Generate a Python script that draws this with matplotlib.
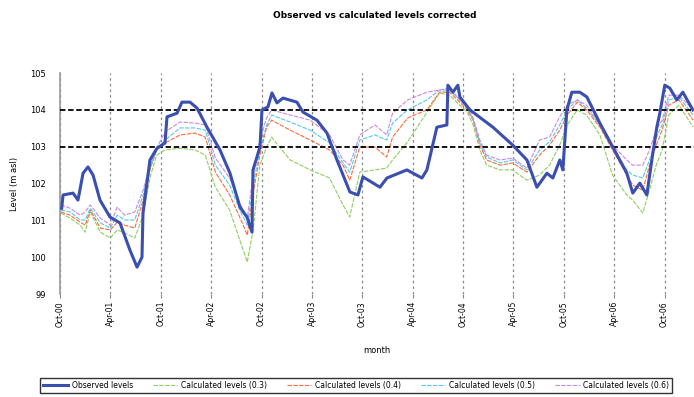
import matplotlib
matplotlib.use("Agg")
import matplotlib.pyplot as plt

# months since Oct 2000
obs_m = [0.2, 0.36, 1.55, 2.14, 2.74, 3.33, 3.93, 4.76, 5.95, 7.14, 8.33, 9.17, 9.76, 9.88,
         10.71, 11.55, 12.5, 12.74, 13.93, 14.52, 15.48, 16.31, 17.5, 19.05, 20.24, 21.43,
         22.26, 22.86, 22.98, 23.81, 24.05, 24.76, 25.24, 25.83, 26.55, 28.21, 28.93, 30.6,
         31.79, 32.98, 34.52, 35.48, 36.07, 38.1, 38.93, 41.31, 43.1, 43.69, 44.88, 46.07,
         46.19, 46.79, 47.38, 47.62, 48.81, 51.55, 53.93, 55.6, 56.79, 57.98, 58.69, 59.52,
         59.88, 60.36, 60.95, 61.9, 62.74, 64.29, 65.83, 67.5, 68.21, 69.05, 69.88, 70.48,
         71.07, 71.43, 72.02, 72.62, 73.45, 74.17, 75.36]
obs_v = [101.33, 101.69, 101.74, 101.55, 102.28, 102.45, 102.23, 101.55, 101.09, 100.93,
         100.19, 99.73, 100.0, 101.2, 102.64, 102.96, 103.1, 103.81, 103.91, 104.21, 104.21,
         104.05, 103.53, 102.91, 102.28, 101.36, 101.09, 100.68, 102.37, 102.99, 104.0,
         104.08, 104.46, 104.19, 104.32, 104.21, 103.94, 103.72, 103.37, 102.64, 101.77,
         101.69, 102.18, 101.9, 102.15, 102.37, 102.15, 102.37, 103.53, 103.59, 104.67,
         104.48, 104.67, 104.35, 104.0, 103.53, 103.04, 102.64, 101.9, 102.28, 102.15,
         102.64, 102.37, 104.0, 104.48, 104.48, 104.35, 103.64, 102.99, 102.28, 101.74,
         102.01, 101.69, 102.64, 103.53, 103.91, 104.67, 104.59, 104.27, 104.48, 104.0]

calc_m = [0.1, 1.2, 2.4, 3.0, 3.6, 4.8, 6.0, 6.8, 7.7, 8.9, 9.9, 10.7, 11.5, 12.5, 14.3, 16.1,
          17.3, 18.5, 20.2, 21.4, 22.3, 23.0, 23.8, 24.6, 25.2, 27.4, 29.8, 32.1, 33.7, 34.5,
          35.7, 37.5, 38.9, 39.6, 41.4, 43.7, 45.2, 46.4, 47.6, 48.5, 49.2, 50.0, 50.8, 52.4,
          53.9, 55.6, 57.1, 58.3, 59.5, 60.4, 61.6, 62.7, 64.3, 65.8, 67.5, 68.2, 69.4, 70.2,
          71.0, 71.7, 72.5, 73.7, 75.4]
calc_a = [101.20, 101.06, 100.87, 100.68, 101.23, 100.68, 100.52, 100.74, 100.66, 100.52,
          101.14, 102.15, 102.77, 102.91, 102.96, 102.91, 102.77, 101.90, 101.28, 100.47,
          99.87, 100.74, 102.50, 102.99, 103.26, 102.64, 102.37, 102.15, 101.42, 101.09,
          102.31, 102.37, 102.42, 102.64, 103.13, 103.94, 104.46, 104.40, 104.13, 103.94,
          103.59, 102.91, 102.50, 102.37, 102.37, 102.09, 102.23, 102.50, 103.04, 103.59,
          104.00, 103.86, 103.32, 102.23, 101.69, 101.55, 101.20, 101.82, 102.50, 102.91,
          103.86, 104.13, 103.53]
calc_b = [101.23, 101.14, 100.95, 100.87, 101.28, 100.79, 100.74, 100.95, 100.87, 100.79,
          101.55, 102.37, 102.91, 103.10, 103.32, 103.37, 103.26, 102.31, 101.69, 101.09,
          100.60, 101.74, 102.77, 103.53, 103.72, 103.45, 103.18, 102.91, 102.50, 102.09,
          102.99, 102.99, 102.72, 103.26, 103.78, 104.00, 104.48, 104.48, 104.21, 104.00,
          103.72, 103.04, 102.64, 102.50, 102.56, 102.31, 102.77, 103.04, 103.45, 103.86,
          104.21, 104.00, 103.53, 102.91, 102.23, 101.96, 101.82, 102.50, 103.04, 103.45,
          104.13, 104.27, 103.72]
calc_c = [101.28, 101.23, 101.01, 101.01, 101.33, 100.93, 100.79, 101.14, 101.01, 101.01,
          101.69, 102.42, 102.91, 103.18, 103.51, 103.51, 103.45, 102.50, 101.96, 101.28,
          100.87, 101.96, 102.91, 103.59, 103.86, 103.67, 103.45, 103.10, 102.56, 102.31,
          103.18, 103.32, 103.18, 103.64, 104.00, 104.27, 104.54, 104.54, 104.27, 104.05,
          103.72, 103.10, 102.72, 102.56, 102.64, 102.37, 102.91, 103.13, 103.59, 104.00,
          104.27, 104.05, 103.59, 102.96, 102.37, 102.23, 102.15, 102.64, 103.24, 103.59,
          104.27, 104.35, 103.86]
calc_d = [101.42, 101.33, 101.14, 101.23, 101.42, 101.06, 100.87, 101.36, 101.14, 101.23,
          101.82, 102.50, 102.96, 103.40, 103.67, 103.64, 103.59, 102.69, 102.15, 101.47,
          101.06, 102.23, 103.18, 103.78, 104.00, 103.86, 103.72, 103.32, 102.64, 102.50,
          103.32, 103.59, 103.32, 103.91, 104.27, 104.48, 104.54, 104.59, 104.27, 104.08,
          103.78, 103.18, 102.77, 102.64, 102.69, 102.42, 103.18, 103.26, 103.81, 104.13,
          104.27, 104.13, 103.59, 103.04, 102.64, 102.50, 102.50, 102.91, 103.45, 103.72,
          104.40, 104.40, 104.00]

tick_m = [0, 6, 12, 18, 24, 30, 36, 42, 48, 54, 60, 66, 72]
tick_lab = ["Oct-00", "Apr-01", "Oct-01", "Apr-02", "Oct-02", "Apr-03", "Oct-03",
            "Apr-04", "Oct-04", "Apr-05", "Oct-05", "Apr-06", "Oct-06"]
y_ticks = [99, 100, 101, 102, 103, 104, 105]
ref_levels = [104, 103]

fig = plt.figure(figsize=(6.94, 3.97), dpi=100)
ax = fig.add_axes([0.0865, 0.2594, 0.9135, 0.5566])

ax.plot(obs_m, obs_v, color='#3a4fb0', lw=2.2, label='Observed levels', zorder=5)
dash = (0, (4, 1.2))
ax.plot(calc_m, calc_a, color='#8fcf5f', lw=0.8, ls=dash, label='Calculated levels (0.3)')
ax.plot(calc_m, calc_b, color='#ff6a3a', lw=0.8, ls=dash, label='Calculated levels (0.4)')
ax.plot(calc_m, calc_c, color='#55c8f0', lw=0.8, ls=dash, label='Calculated levels (0.5)')
ax.plot(calc_m, calc_d, color='#cc88dd', lw=0.8, ls=dash, label='Calculated levels (0.6)')

for lv in ref_levels:
    ax.axhline(lv, color='black', lw=1.3, ls=(0, (3, 1.5)), zorder=4)

ax.set_xlim(0, 75.5)
ax.set_ylim(99, 105)
ax.set_yticks(y_ticks)
ax.set_yticklabels([str(v) for v in y_ticks], fontsize=6)
ax.set_xticks(tick_m)
ax.set_xticklabels(tick_lab, rotation=90, fontsize=5.5)
ax.xaxis.grid(True, color='#888888', ls=(0, (2, 2.5)), lw=0.9)
ax.tick_params(axis='x', length=3, color='#888888', pad=2)
ax.tick_params(axis='y', length=0, pad=10)
for s in ['top', 'right', 'bottom']:
    ax.spines[s].set_visible(False)
ax.spines['left'].set_color('#999999')
ax.spines['left'].set_linewidth(1.2)

ax.set_ylabel('Level (m asl)', fontsize=6, labelpad=8)
ax.set_xlabel('month', fontsize=6, labelpad=14)
fig.text(0.54, 0.955, 'Observed vs calculated levels corrected', ha='center',
         fontsize=6.5, fontweight='bold')

leg = ax.legend(loc='upper left', bbox_to_anchor=(0.058, 0.048), bbox_transform=fig.transFigure,
                ncol=5, fontsize=5.5, frameon=True, fancybox=False, edgecolor='black',
                handlelength=3.2, handletextpad=0.5, columnspacing=2.6, borderaxespad=0)
leg.get_frame().set_linewidth(1.0)

fig.savefig('out.png', dpi=100)
